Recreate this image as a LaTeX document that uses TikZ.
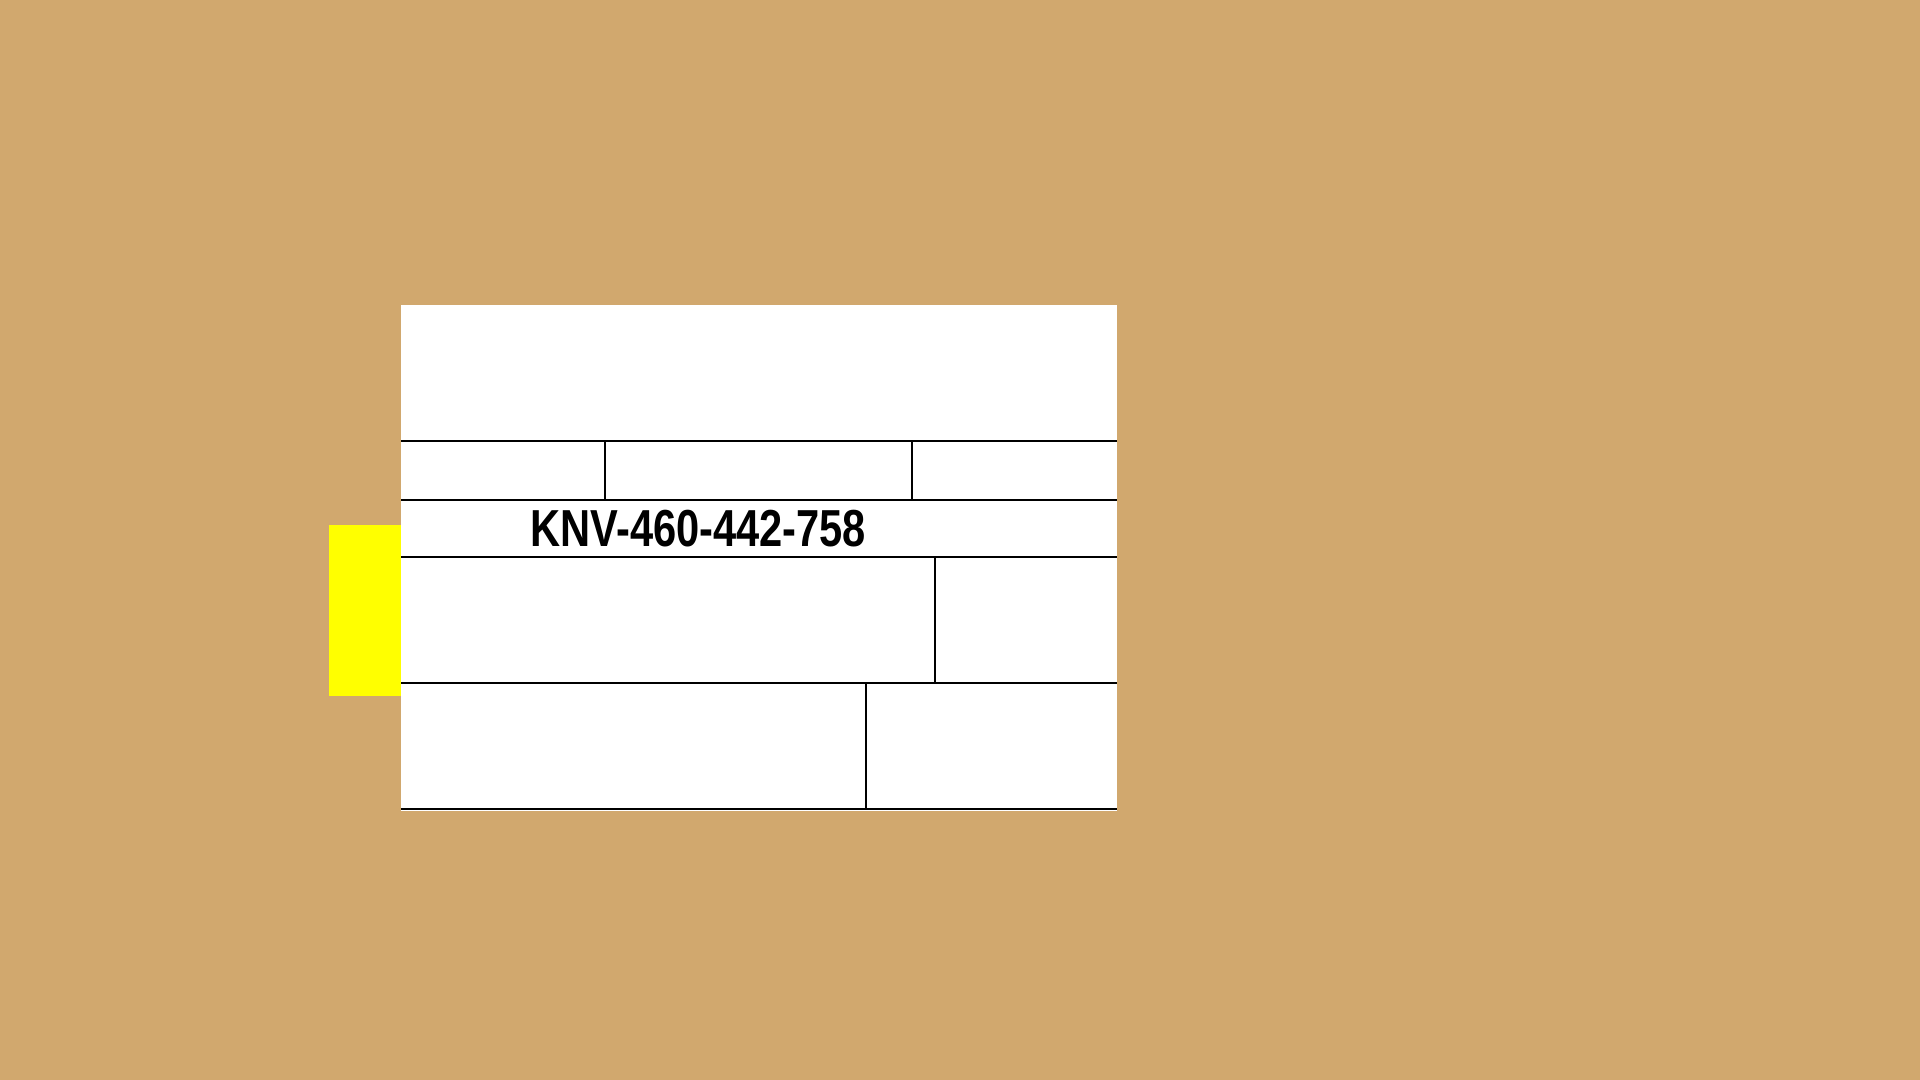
\documentclass[tikz,border=0pt]{standalone}
\usepackage{fontspec}
\setmainfont{Liberation Sans}
\definecolor{cardboard}{RGB}{209,168,110}
\definecolor{tabyellow}{RGB}{255,255,0}

\begin{document}
\begin{tikzpicture}[x=0.01cm, y=-0.01cm, line width=0.3pt]
        \fill[cardboard] (0,0) rectangle (1920,1080);
        \fill[tabyellow] (329,525) rectangle (401,696);
        \fill[white] (401,305) rectangle (1117,811);

        \coordinate (a1) at (401,441) ; \coordinate (a2) at (1117,441) ;
        \coordinate (b1) at (401,500) ; \coordinate (b2) at (1117,500) ;
        \coordinate (c1) at (401,557) ; \coordinate (c2) at (1117,557) ;
        \coordinate (d1) at (401,683) ; \coordinate (d2) at (1117,683) ;
        \coordinate (e1) at (401,809) ; \coordinate (e2) at (1117,809) ;

        \node[anchor=base west, inner sep=0pt] (code) at (530,547)
            {\scalebox{0.80}[1]{\bfseries\fontsize{14.8}{16}\selectfont KNV-460-442-758}} ;

        \draw[-] (a1) -- (a2);
        \draw[-] (b1) -- (b2);
        \draw[-] (c1) -- (c2);
        \draw[-] (d1) -- (d2);
        \draw[-] (e1) -- (e2);
        \draw[-] (605,441) -- (605,500);
        \draw[-] (912,441) -- (912,500);
        \draw[-] (935,557) -- (935,683);
        \draw[-] (866,683) -- (866,809);
    \end{tikzpicture}
\end{document}
